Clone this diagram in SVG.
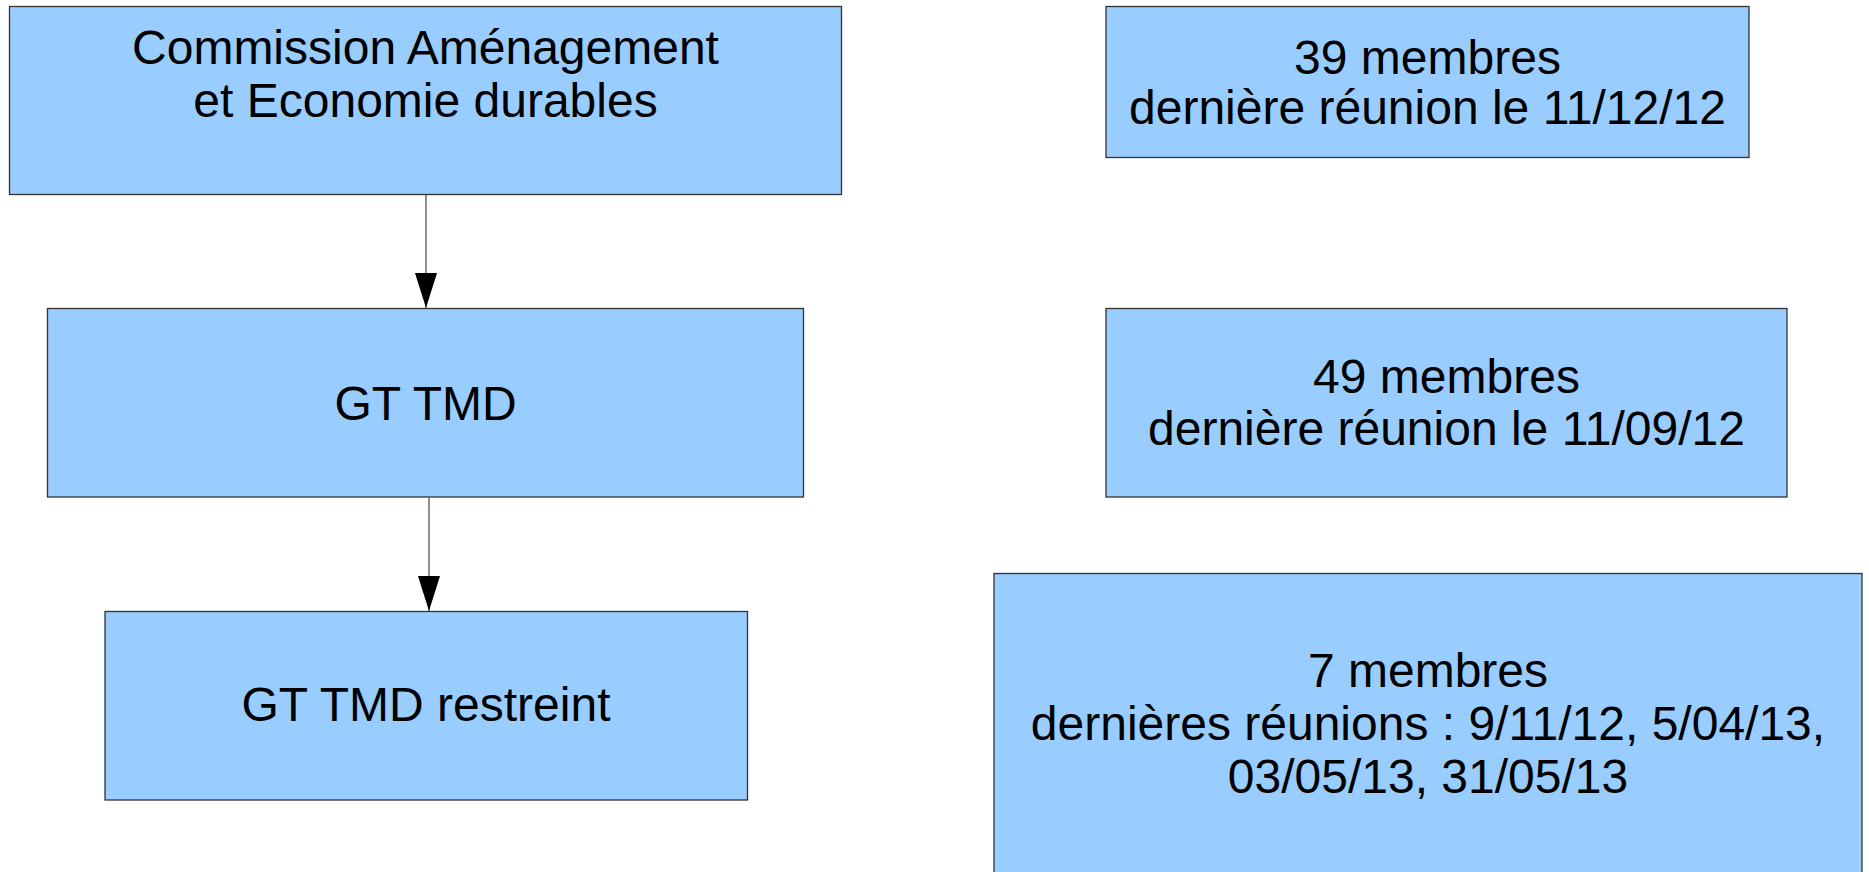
<svg xmlns="http://www.w3.org/2000/svg" width="1869" height="872" viewBox="0 0 1869 872">
<style>
.box{fill:#99ccff;stroke:#333333;stroke-width:1.3}
.t{font-family:"Liberation Sans",Arial,sans-serif;font-size:48px;fill:#000000;text-anchor:middle}
.c{stroke:#555555;stroke-width:1.3;fill:none}
</style>
<defs>
<marker id="ah" markerUnits="userSpaceOnUse" markerWidth="36" markerHeight="24" refX="35" refY="11" orient="auto" viewBox="0 0 36 22">
<path d="M0,0 L35,11 L0,22 Z" fill="#000000"/>
</marker>
</defs>
<rect width="1869" height="872" fill="#ffffff"/>
<g id="n1"><rect class="box" x="9.5" y="6.5" width="832" height="188"/>
<text class="t" x="425.5" y="64">Commission Aménagement</text>
<text class="t" x="425.5" y="117">et Economie durables</text></g>
<g id="n2"><rect class="box" x="47.5" y="308.5" width="756" height="188.5"/>
<text class="t" x="425.5" y="420">GT TMD</text></g>
<g id="n3"><rect class="box" x="105" y="611.5" width="642.5" height="188.5"/>
<text class="t" x="426" y="721">GT TMD restreint</text></g>
<g id="r1"><rect class="box" x="1106" y="6.5" width="643" height="151"/>
<text class="t" x="1427.5" y="74">39 membres</text>
<text class="t" x="1427.5" y="124">dernière réunion le 11/12/12</text></g>
<g id="r2"><rect class="box" x="1106" y="308.5" width="681" height="188.5"/>
<text class="t" x="1446.5" y="393">49 membres</text>
<text class="t" x="1446.5" y="445">dernière réunion le 11/09/12</text></g>
<g id="r3"><rect class="box" x="994" y="573.5" width="868" height="310"/>
<text class="t" x="1428" y="687">7 membres</text>
<text class="t" x="1428" y="740">dernières réunions : 9/11/12, 5/04/13,</text>
<text class="t" x="1428" y="793">03/05/13, 31/05/13</text></g>
<g id="connectors">
<line class="c" x1="426" y1="194.5" x2="426" y2="308" marker-end="url(#ah)"/>
<line class="c" x1="429" y1="497" x2="429" y2="611" marker-end="url(#ah)"/>
</g>
</svg>
